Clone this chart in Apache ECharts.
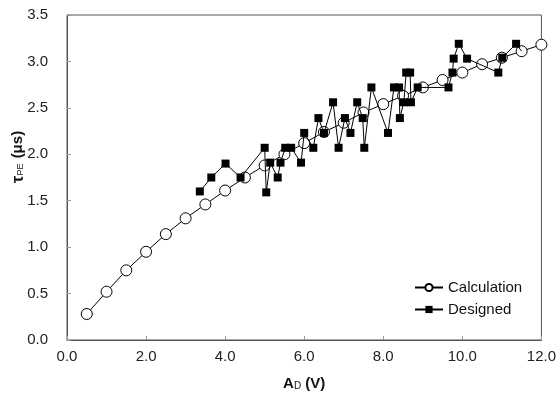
<!DOCTYPE html>
<html>
<head>
<meta charset="utf-8">
<script src="https://cdn.jsdelivr.net/npm/echarts@6/dist/echarts.min.js"></script>
<style>html,body{margin:0;padding:0;background:#fff}#c{width:559px;height:396px}</style>
</head>
<body>
<div id="c"></div>
<script>
const calcX = [0.5,1.0,1.5,2.0,2.5,3.0,3.5,4.0,4.5,5.0,5.5,6.0,6.5,7.0,7.5,8.0,8.5,9.0,9.5,10.0,10.5,11.0,11.5,12.0];
const calcY = [0.28,0.52,0.75,0.95,1.14,1.31,1.46,1.61,1.75,1.88,2.00,2.12,2.24,2.34,2.45,2.54,2.63,2.72,2.80,2.88,2.97,3.04,3.11,3.18];
const designedX = [3.36,3.65,4.01,4.39,5.00,5.04,5.14,5.33,5.40,5.52,5.67,5.92,6.00,6.23,6.36,6.50,6.73,6.87,7.03,7.17,7.34,7.48,7.52,7.70,8.12,8.27,8.40,8.42,8.52,8.58,8.68,8.70,8.87,9.65,9.75,9.78,9.91,10.12,10.91,11.01,11.36,11.5];
const designedY = [1.60,1.75,1.90,1.75,2.07,1.59,1.91,1.75,1.91,2.07,2.07,1.91,2.23,2.07,2.39,2.23,2.56,2.07,2.39,2.23,2.56,2.39,2.07,2.72,2.23,2.72,2.72,2.39,2.56,2.88,2.88,2.56,2.72,2.72,2.88,3.03,3.19,3.03,2.88,3.04,3.19,3.11];
const xTicks = {min:0, max:12, interval:2};
const yTicks = {min:0, max:3.5, interval:0.5};

const FONT = "'Liberation Sans', Arial, Helvetica, sans-serif";
const chart = echarts.init(document.getElementById('c'), null, {renderer:'canvas'});
const calcData = calcX.map((x,i)=>[x, calcY[i]]);
const desData = designedX.map((x,i)=>{
  const last = i === designedX.length - 1;
  return last ? {value:[x, designedY[i]], symbol:'none'} : [x, designedY[i]];
});
chart.setOption({
  animation:false,
  backgroundColor:'#fff',
  grid:{left:67, right:14, top:15, bottom:55, show:true, borderColor:'#555', borderWidth:1, backgroundColor:'transparent'},
  xAxis:{
    type:'value', min:xTicks.min, max:xTicks.max, interval:xTicks.interval,
    axisLine:{show:true, lineStyle:{color:'#555', width:1}},
    axisTick:{show:true, inside:true, length:4, lineStyle:{color:'#999'}},
    splitLine:{show:false},
    axisLabel:{color:'#222', fontSize:15, fontFamily:FONT, margin:9, formatter:v=>v.toFixed(1)},
    name:'{a|A}{s|D}{a| (V)}', nameLocation:'middle', nameGap:36,
    nameTextStyle:{rich:{
      a:{fontSize:15, fontWeight:'bold', fontFamily:FONT, color:'#111'},
      s:{fontSize:10, fontWeight:'normal', fontFamily:FONT, color:'#111', verticalAlign:'bottom', padding:[5,0,0,0]}
    }}
  },
  yAxis:{
    type:'value', min:yTicks.min, max:yTicks.max, interval:yTicks.interval,
    axisLine:{show:true, lineStyle:{color:'#555', width:1}},
    axisTick:{show:true, inside:true, length:4, lineStyle:{color:'#999'}},
    splitLine:{show:false},
    axisLabel:{color:'#222', fontSize:15, fontFamily:FONT, margin:19, formatter:v=>v.toFixed(1)}
  },
  graphic:[{
    type:'text', x:18, y:157, rotation:Math.PI/2,
    style:{
      text:'{t|τ}{s|PE}{a| (μs)}',
      align:'center', verticalAlign:'middle',
      rich:{
        t:{fontSize:17, fontWeight:'bold', fontFamily:FONT, fill:'#111'},
        a:{fontSize:15, fontWeight:'bold', fontFamily:FONT, fill:'#111'},
        s:{fontSize:9, fontWeight:'normal', fontFamily:FONT, fill:'#111', padding:[6,1,0,0]}
      }
    }
  }],
  legend:{
    orient:'vertical', left:409, top:275, itemWidth:28, itemHeight:9, itemGap:7,
    textStyle:{fontSize:15, fontFamily:FONT, color:'#111'},
    data:['Calculation','Designed']
  },
  series:[
    {name:'Calculation', type:'line', data:calcData, symbol:'circle', symbolSize:11,
     lineStyle:{color:'#000', width:1}, itemStyle:{color:'#fff', borderColor:'#000', borderWidth:1}, z:2},
    {name:'Designed', type:'line', data:desData, symbol:'rect', symbolSize:8,
     lineStyle:{color:'#000', width:1}, itemStyle:{color:'#000', borderColor:'#000', borderWidth:0}, z:3}
  ]
});
</script>
</body>
</html>
